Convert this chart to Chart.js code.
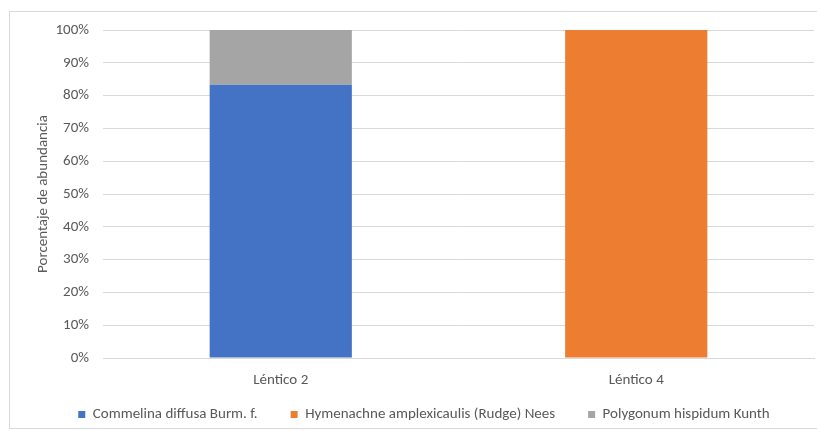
<!DOCTYPE html>
<html>
<head>
<meta charset="utf-8">
<script src="https://cdn.jsdelivr.net/npm/chart.js@4"></script>
<style>
  body { margin: 0; background: #fff; }
  #box { position: absolute; left: 9px; top: 11px; width: 812px; height: 416px; border: 1px solid #d9d9d9; }
  #wrap { position: relative; width: 806px; height: 416px; }
</style>
</head>
<body>
<div id="box"><div id="wrap"><canvas id="myChart"></canvas></div></div>
<script>
const categories = ['Léntico 2', 'Léntico 4'];
const seriesNames = ['Commelina diffusa Burm. f.', 'Hymenachne amplexicaulis (Rudge) Nees', 'Polygonum hispidum Kunth'];
const commelina = [83.33, 0];
const hymenachne = [0, 100];
const polygonum = [16.67, 0];
const seriesColors = ['#4472C4', '#ED7D31', '#A5A5A5'];
const yTicks = [0, 10, 20, 30, 40, 50, 60, 70, 80, 90, 100];

const fontFamily = 'Carlito, "Liberation Sans Narrow", "Noto Sans", sans-serif';
const textColor = '#595959';

// legend sits a bit closer to the axis labels than Chart.js would put it
const legendShift = {
    id: 'legendShift',
    beforeLayout(chart) {
        const lg = chart.legend;
        if (lg && !lg._patched) {
            const fit = lg.fit.bind(lg);
            lg.fit = function () { fit(); this.height = 39; };
            lg._patched = true;
        }
    },
    afterLayout(chart) {
        const lg = chart.legend;
        if (lg) {
            lg.top -= 15;
            lg.bottom = lg.top + 56;
            lg.left += 12;
            lg.right += 12;
        }
    }
};

const ctx = document.getElementById('myChart').getContext('2d');
const chartInstance = new Chart(ctx, {
    type: 'bar',
    data: {
        labels: categories,
        datasets: [commelina, hymenachne, polygonum].map((vals, i) => ({
            label: seriesNames[i],
            data: vals,
            backgroundColor: seriesColors[i],
            borderWidth: 0,
            categoryPercentage: 1,
            barPercentage: 0.4
        }))
    },
    options: {
        responsive: true,
        maintainAspectRatio: false,
        animation: false,
        layout: { padding: { top: 18, right: 2, left: 0, bottom: 0 } },
        plugins: {
            legend: {
                position: 'bottom',
                labels: {
                    boxWidth: 7,
                    boxHeight: 7,
                    padding: 33,
                    color: textColor,
                    font: { family: fontFamily, size: 15 }
                }
            },
            tooltip: { enabled: false }
        },
        scales: {
            x: {
                stacked: true,
                grid: { display: false, drawTicks: false },
                border: { color: '#d9d9d9' },
                afterFit: (scale) => { scale.height = 31; },
                ticks: { color: textColor, padding: 13, font: { family: fontFamily, size: 15 } }
            },
            y: {
                stacked: true,
                min: 0,
                max: 100,
                afterBuildTicks: (scale) => { scale.ticks = yTicks.map(v => ({ value: v })); },
                afterFit: (scale) => {
                    scale.width = 93;
                    scale.paddingTop = 0;
                    scale.paddingBottom = 0;
                },
                border: { display: false },
                grid: { color: '#d9d9d9', drawTicks: false },
                ticks: {
                    color: textColor,
                    padding: 14,
                    font: { family: fontFamily, size: 15 },
                    callback: (v) => v + '%'
                },
                title: {
                    display: true,
                    text: 'Porcentaje de abundancia',
                    color: textColor,
                    padding: { top: 24, bottom: 0 },
                    font: { family: fontFamily, size: 15 }
                }
            }
        }
    },
    plugins: [legendShift]
});
</script>
</body>
</html>
